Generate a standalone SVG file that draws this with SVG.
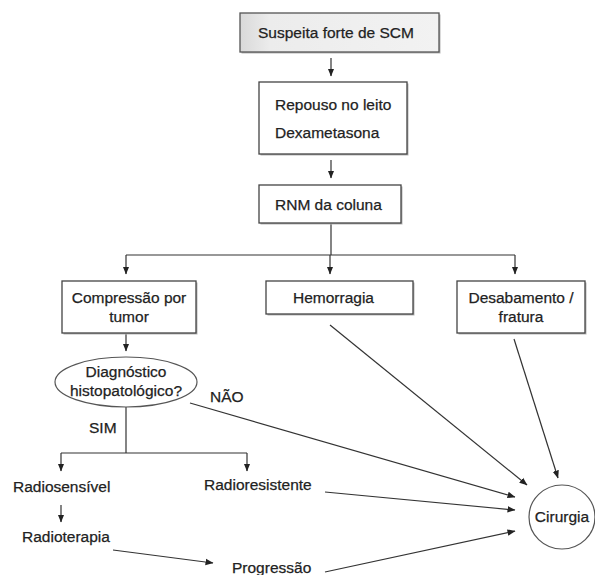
<svg xmlns="http://www.w3.org/2000/svg" width="595" height="575" viewBox="0 0 595 575">
<defs>
<marker id="ah" viewBox="0 0 8 8" refX="7.5" refY="4" markerWidth="8" markerHeight="8" markerUnits="userSpaceOnUse" orient="auto">
<path d="M0,0.8 L8,4 L0,7.2 Z" fill="#222"/>
</marker>
<linearGradient id="g1" x1="0" y1="0" x2="1" y2="0">
<stop offset="0" stop-color="#d9d9d9"/>
<stop offset="0.15" stop-color="#ececec"/>
<stop offset="1" stop-color="#f2f2f2"/>
</linearGradient>
</defs>
<style>
text{font-family:"Liberation Sans",Arial,sans-serif;font-size:15.5px;fill:#222;stroke:#222;stroke-width:0.25}
.box{fill:#fff;stroke:#444;stroke-width:1.3}
.sh{fill:#b5b5b5}
.c{stroke:#333;stroke-width:1.2;fill:none}
.a{marker-end:url(#ah)}
</style>
<rect width="595" height="575" fill="#fff"/>

<g id="connectors">
<line class="c a" x1="331" y1="58" x2="331" y2="76"/>
<line class="c a" x1="331" y1="160" x2="331" y2="178"/>
<polyline class="c" points="331,223 331,255"/>
<polyline class="c" points="126,255 515,255"/>
<line class="c a" x1="126" y1="255" x2="126" y2="274"/>
<line class="c a" x1="330" y1="255" x2="330" y2="274"/>
<line class="c a" x1="515" y1="255" x2="515" y2="274"/>
<line class="c a" x1="126" y1="333" x2="126" y2="351"/>
<line class="c" x1="126" y1="407" x2="126" y2="453"/>
<line class="c" x1="61" y1="453" x2="247" y2="453"/>
<line class="c a" x1="61" y1="453" x2="61" y2="471"/>
<line class="c a" x1="247" y1="453" x2="247" y2="471"/>
<line class="c a" x1="61" y1="505" x2="61" y2="522"/>
<line class="c a" x1="113" y1="550" x2="213" y2="563"/>
<line class="c a" x1="330" y1="325" x2="527" y2="485"/>
<line class="c a" x1="514" y1="339" x2="558" y2="478"/>
<line class="c a" x1="190" y1="403" x2="515" y2="497"/>
<line class="c a" x1="325" y1="492" x2="515" y2="510"/>
<line class="c a" x1="325" y1="572" x2="515" y2="531"/>
</g>

<g id="suspeita">
<rect x="241.5" y="14.5" width="199" height="39" class="sh"/>
<rect x="240" y="13" width="199" height="39" fill="url(#g1)" stroke="#555" stroke-width="1.3"/>
<text x="336" y="38" text-anchor="middle">Suspeita forte de SCM</text>
</g>

<g id="repouso">
<rect x="260.5" y="83.5" width="148" height="72" class="sh"/>
<rect x="259" y="82" width="148" height="72" class="box"/>
<text x="275" y="110">Repouso no leito</text>
<text x="275" y="138">Dexametasona</text>
</g>

<g id="rnm">
<rect x="260.5" y="186.5" width="142" height="38" class="sh"/>
<rect x="259" y="185" width="142" height="38" class="box"/>
<text x="275" y="210">RNM da coluna</text>
</g>

<g id="compressao">
<rect x="63.5" y="282.5" width="134" height="52" class="sh"/>
<rect x="62" y="281" width="134" height="52" class="box"/>
<text x="129" y="303" text-anchor="middle">Compressão por</text>
<text x="129" y="322" text-anchor="middle">tumor</text>
</g>

<g id="hemorragia">
<rect x="267.5" y="282.5" width="147" height="33" class="sh"/>
<rect x="266" y="281" width="147" height="33" class="box"/>
<text x="293" y="303">Hemorragia</text>
</g>

<g id="desabamento">
<rect x="458.5" y="282.5" width="128" height="52" class="sh"/>
<rect x="457" y="281" width="128" height="52" class="box"/>
<text x="521" y="303" text-anchor="middle">Desabamento /</text>
<text x="521" y="322" text-anchor="middle">fratura</text>
</g>

<g id="diagnostico">
<ellipse cx="126" cy="382" rx="71" ry="25" fill="#fff" stroke="#555" stroke-width="1.2"/>
<text x="126" y="377" text-anchor="middle">Diagnóstico</text>
<text x="126" y="396" text-anchor="middle">histopatológico?</text>
</g>

<g id="labels">
<text x="210" y="402">NÃO</text>
<text x="89" y="433">SIM</text>
</g>

<g id="radiosensivel"><text x="13" y="492">Radiosensível</text></g>
<g id="radioresistente"><text x="204" y="490">Radioresistente</text></g>
<g id="radioterapia"><text x="22" y="542">Radioterapia</text></g>
<g id="progressao"><text x="232" y="573">Progressão</text></g>

<g id="cirurgia">
<ellipse cx="562" cy="517" rx="33" ry="32" fill="#fff" stroke="#555" stroke-width="1.2"/>
<text x="562" y="522" text-anchor="middle">Cirurgia</text>
</g>
</svg>
